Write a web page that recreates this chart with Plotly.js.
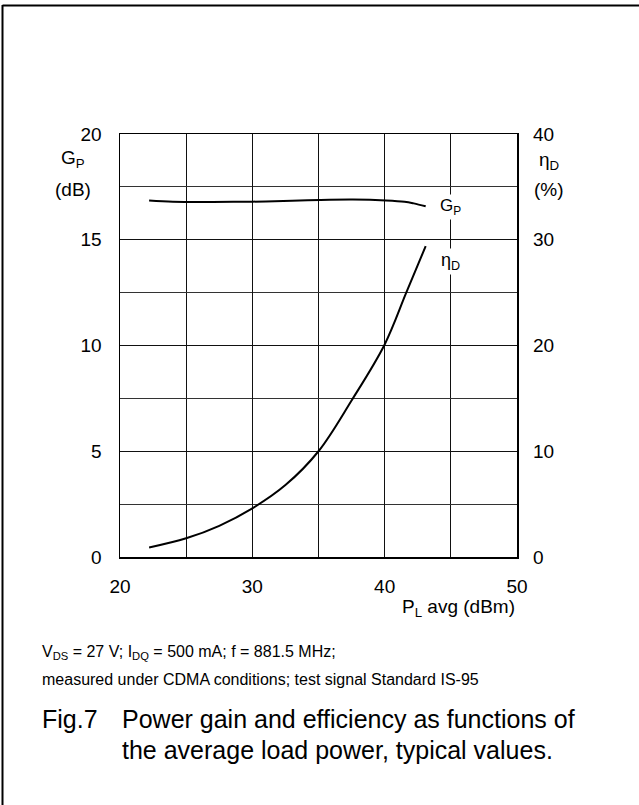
<!DOCTYPE html>
<html>
<head>
<meta charset="utf-8">
<script src="https://cdn.plot.ly/plotly-3.0.1.min.js"></script>
<style>html,body{margin:0;padding:0;background:#fff;}#chart{width:639px;height:805px;}</style>
</head>
<body>
<div id="chart"></div>
<script>
// Data
var gpX = [22.2, 24.0, 27.0, 30.0, 33.0, 35.1, 37.6, 40.1, 41.5, 42.2, 43.1];
var gpY = [16.85, 16.8, 16.79, 16.8, 16.84, 16.88, 16.9, 16.86, 16.8, 16.72, 16.58];
var etaX = [22.2, 25.0, 27.5, 30.0, 32.5, 35.0, 37.5, 40.0, 41.6, 42.5, 43.1];
var etaY = [0.9, 1.77, 2.95, 4.6, 6.8, 10.0, 14.8, 20.1, 24.9, 27.6, 29.4];
var leftTicks = [0, 5, 10, 15, 20];
var rightTicks = [0, 10, 20, 30, 40];
var xTicks = [20, 30, 40, 50];

var FONT = "Liberation Sans, Arial, sans-serif";
var L = 120, R = 517, T = 134, B = 557;
function px(x){ return (x - L) / (R - L); }
function py(y){ return (B - y) / (B - T); }

var traces = [
  {x: gpX, y: gpY, type: 'scatter', mode: 'lines', line: {color: '#000', width: 2, shape: 'spline', smoothing: 1}, yaxis: 'y', hoverinfo: 'skip'},
  {x: etaX, y: etaY, type: 'scatter', mode: 'lines', line: {color: '#000', width: 2, shape: 'spline', smoothing: 1}, yaxis: 'y2', hoverinfo: 'skip'}
];

var ann = [];
function a(text, x, y, size, xanchor, extra){
  var o = {text: text, xref: 'paper', yref: 'paper', x: px(x), y: py(y), showarrow: false,
    font: {family: FONT, size: size, color: '#000'}, xanchor: xanchor || 'center', yanchor: 'middle'};
  if (extra) for (var k in extra) o[k] = extra[k];
  ann.push(o);
}
a('G<sub>P</sub>', 73, 159, 19);
a('(dB)', 73, 189, 19);
a('η<sub>D</sub>', 549, 161, 19);
a('(%)', 549, 189, 19);
a('P<sub>L</sub> avg (dBm)', 458, 608, 19);
// curve labels placed in data coords
ann.push({text: 'G<sub>P</sub>', x: 45, y: 16.55, xref: 'x', yref: 'y', showarrow: false, bgcolor: '#fff',
  font: {family: FONT, size: 17, color: '#000'}, xanchor: 'center', yanchor: 'middle', borderpad: 1});
ann.push({text: 'η<sub>D</sub>', x: 45, y: 27.9, xref: 'x', yref: 'y2', showarrow: false, bgcolor: '#fff',
  font: {family: FONT, size: 18, color: '#000'}, xanchor: 'center', yanchor: 'middle', borderpad: 1});
a('V<sub>DS</sub> = 27 V; I<sub>DQ</sub> = 500 mA; f = 881.5 MHz;', 40, 652, 16, 'left');
a('measured under CDMA conditions; test signal Standard IS-95', 40, 679, 16, 'left');
a('Fig.7', 40, 719, 25, 'left');
a('Power gain and efficiency as functions of', 120, 719, 25, 'left');
a('the average load power, typical values.', 120, 750, 25, 'left');

var layout = {
  width: 639, height: 805,
  margin: {l: L, r: 639 - R, t: T, b: 805 - B, pad: 0},
  paper_bgcolor: '#fff', plot_bgcolor: '#fff',
  showlegend: false,
  font: {family: FONT, size: 19, color: '#000'},
  xaxis: {range: [20, 50], tickvals: xTicks, ticks: '', ticklabelstandoff: 12,
    showgrid: true, gridcolor: '#111', gridwidth: 1,
    minor: {tickvals: [25, 35, 45], showgrid: true, gridcolor: '#111', gridwidth: 1},
    zeroline: false, showline: true, linecolor: '#000', linewidth: 1.5, mirror: true,
    tickfont: {family: FONT, size: 19, color: '#000'}, fixedrange: true},
  yaxis: {range: [0, 20], tickvals: leftTicks, ticks: '', ticklabelstandoff: 13,
    showgrid: true, gridcolor: '#111', gridwidth: 1,
    minor: {tickvals: [2.5, 7.5, 12.5, 17.5], showgrid: true, gridcolor: '#333', gridwidth: 1},
    zeroline: false, showline: true, linecolor: '#000', linewidth: 1.5, mirror: true,
    tickfont: {family: FONT, size: 19, color: '#000'}, fixedrange: true},
  yaxis2: {range: [0, 40], tickvals: rightTicks, overlaying: 'y', side: 'right', ticks: '', ticklabelstandoff: 15,
    showgrid: false, zeroline: false, showline: false,
    tickfont: {family: FONT, size: 19, color: '#000'}, fixedrange: true},
  annotations: ann,
  shapes: [
    {type: 'line', xref: 'paper', yref: 'paper', x0: px(2.5), x1: px(2.5), y0: py(5), y1: py(805), line: {color: '#000', width: 2}},
    {type: 'line', xref: 'paper', yref: 'paper', x0: px(2.5), x1: px(639), y0: py(5.5), y1: py(5.5), line: {color: '#000', width: 2}}
  ]
};

Plotly.newPlot('chart', traces, layout, {displayModeBar: false, staticPlot: true});
</script>
</body>
</html>
